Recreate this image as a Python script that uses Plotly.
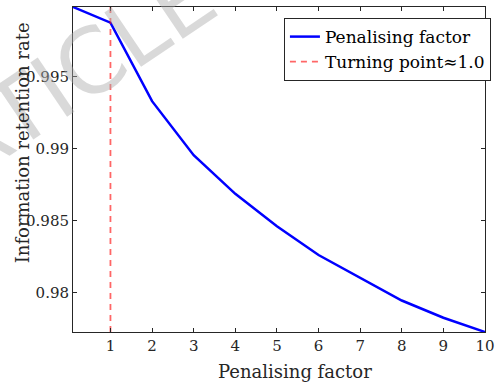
import plotly.graph_objects as go

penalising_factor = [0.1, 1, 2, 3, 4, 5, 6, 7, 8, 9, 10]
retention_rate = [0.99985, 0.99876, 0.99330, 0.98954, 0.98686, 0.98461, 0.98260, 0.98101, 0.97944, 0.97824, 0.97725]
turning_point = 1.0
x_ticks = [1, 2, 3, 4, 5, 6, 7, 8, 9, 10]
y_ticks = [0.98, 0.985, 0.99, 0.995]
y_ticklabels = ["0.98", "0.985", "0.99", "0.995"]

ymin, ymax = min(retention_rate), max(retention_rate)
serif = "DejaVu Serif"
ink = "#262626"

fig = go.Figure()
fig.add_trace(go.Scatter(x=penalising_factor, y=retention_rate, mode="lines",
                         line=dict(color="#0000FF", width=2.5),
                         name="Penalising factor"))
fig.add_trace(go.Scatter(x=[turning_point, turning_point], y=[ymin, ymax], mode="lines",
                         line=dict(color="rgba(255,0,0,0.6)", width=1.8, dash="6px,5px"),
                         name="Turning point≈1.0"))

# watermark
fig.add_annotation(text="ARTICLE IN PRESS", xref="paper", yref="paper",
                   x=0.39, y=1.125, xanchor="center", yanchor="middle",
                   showarrow=False, textangle=-34,
                   font=dict(family="DejaVu Sans", size=90, color="rgba(170,170,170,0.45)"))

# axis titles
fig.add_annotation(text="Penalising factor", xref="paper", yref="paper",
                   x=(298 - 73) / 418, y=-(372 - 332) / 326, xanchor="center", yanchor="middle",
                   showarrow=False, font=dict(family=serif, size=18, color=ink))
fig.add_annotation(text="Information retention rate", xref="paper", yref="paper",
                   x=-(73 - 22) / 418, y=1 - (142 - 6) / 326, xanchor="center", yanchor="middle",
                   showarrow=False, textangle=-90, font=dict(family=serif, size=18, color=ink))

axis_common = dict(showline=True, linecolor=ink, linewidth=1, mirror="ticks",
                   ticks="inside", ticklen=4, tickcolor=ink, showgrid=False,
                   zeroline=False, tickfont=dict(family=serif, size=15, color=ink))

fig.update_layout(
    width=501, height=383,
    margin=dict(l=73, r=10, t=6, b=51),
    paper_bgcolor="white", plot_bgcolor="white",
    xaxis=dict(range=[min(penalising_factor), max(penalising_factor)], tickvals=x_ticks,
               **axis_common),
    yaxis=dict(range=[ymin, ymax], tickvals=y_ticks, ticktext=y_ticklabels,
               **axis_common),
    legend=dict(x=(287 - 73) / 418, y=0.966, xanchor="left", yanchor="top",
                bgcolor="white", bordercolor=ink, borderwidth=1,
                font=dict(family=serif, size=17, color="black"),
                tracegroupgap=0, itemwidth=30),
    showlegend=True,
)

fig.write_html("out.html", config={"displayModeBar": False},
               post_script="document.body.style.margin='0';")
